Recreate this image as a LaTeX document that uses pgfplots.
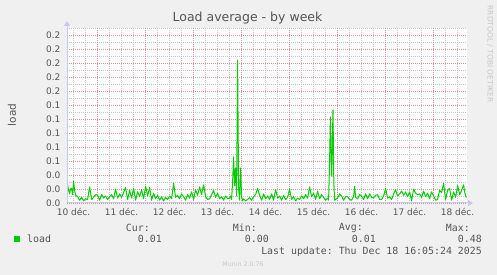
\documentclass[border=0pt]{standalone}
\usepackage{pgfplots}
\pgfplotsset{compat=1.18}
\usepackage{fontspec}
\setmainfont{DejaVu Sans}
\setmonofont{DejaVu Sans Mono}
\usetikzlibrary{arrows.meta}
\definecolor{bg}{HTML}{F0F0F0}
\definecolor{txt}{HTML}{555555}
\definecolor{gridred}{HTML}{D89090}
\definecolor{gridgray}{HTML}{C4C4C4}
\definecolor{axcol}{HTML}{C8C8F5}
\definecolor{loadgreen}{HTML}{00CC00}
\definecolor{faint}{HTML}{C8C8C8}
\begin{document}
\begin{tikzpicture}
\fill[bg] (-67pt,-72pt) rectangle (430pt,203pt);
\begin{axis}[
  at={(0pt,0pt)}, anchor=south west,
  scale only axis, width=400pt, height=175pt,
  xmin=8.7, xmax=208.7, ymin=0, ymax=0.25,
  axis background/.style={fill=white},
  axis line style={draw=none},
  clip=true,
  xtick={12,36,60,84,108,132,156,180,204},
  xticklabels={10 déc., 11 déc., 12 déc., 13 déc., 14 déc., 15 déc., 16 déc., 17 déc., 18 déc.},
  minor xtick={12,18,30,36,42,54,60,66,78,84,90,102,108,114,126,132,138,150,156,162,174,180,186,198,204},
  extra x ticks={24,48,72,96,120,144,168,192},
  extra x tick labels={},
  extra x tick style={xmajorgrids=true, major grid style={gridred, dash pattern=on 1pt off 1pt, line width=0.8pt}},
  ytick={0,0.02,0.04,0.06,0.08,0.10,0.12,0.14,0.16,0.18,0.20,0.22,0.24},
  yticklabels={0.0,0.0,0.0,0.1,0.1,0.1,0.1,0.1,0.2,0.2,0.2,0.2,0.2},
  minor ytick={0.01,0.03,0.05,0.07,0.09,0.11,0.13,0.15,0.17,0.19,0.21,0.23,0.25},
  xmajorgrids=false, xminorgrids=true, ymajorgrids=true, yminorgrids=true,
  major grid style={gridred, dash pattern=on 1pt off 1pt, line width=0.8pt},
  minor grid style={gridgray, dash pattern=on 1pt off 1pt, line width=0.8pt},
  major tick length=0pt, minor tick length=0pt,
  tick label style={font=\fontsize{9}{10}\selectfont, text=txt},
  yticklabel style={xshift=-3pt},
  xticklabel style={yshift=-2pt},
]
\addplot[loadgreen, line width=1pt, line join=round] coordinates {
(9,0.026)(9.5,0.018)(10,0.013)(10.5,0.020)(11,0.021)(11.5,0.012)(12,0.031)(12.5,0.018)
(13,0.011)(14,0.009)(15,0.004)(16,0.008)(17,0.003)(18,0.006)(19,0.005)(20,0.023)
(21,0.005)(22,0.008)(23,0.012)(24,0.011)(25,0.004)(26,0.012)(27,0.007)(28,0.010)
(29,0.005)(30,0.009)(31,0.012)(32,0.006)(33,0.020)(34,0.007)(35,0.013)(36,0.008)
(37,0.015)(38,0.022)(39,0.005)(40,0.018)(41,0.007)(42,0.021)(43,0.004)(44,0.016)
(45,0.009)(46,0.019)(47,0.006)(48,0.024)(49,0.010)(50,0.022)(51,0.004)(52,0.014)
(53,0.006)(54,0.011)(55,0.004)(56,0.009)(57,0.003)(58,0.008)(59,0.005)(60,0.010)
(61,0.006)(62,0.028)(63,0.008)(64,0.011)(65,0.006)(66,0.013)(67,0.009)(68,0.004)
(69,0.012)(70,0.007)(71,0.016)(72,0.005)(73,0.019)(74,0.011)(75,0.023)(76,0.012)
(77,0.026)(78,0.009)(79,0.005)(80,0.006)(81,0.012)(82,0.018)(83,0.008)(84,0.014)
(85,0.006)(86,0.009)(87,0.004)(88,0.010)(89,0.006)(90,0.007)(90.5,0.010)(91,0.005)
(91.5,0.030)(92,0.066)(92.5,0.025)(93,0.050)(93.5,0.010)(94,0.204)(94.5,0.020)(95,0.004)
(95.5,0.050)(96,0.008)(96.5,0.003)(97,0.006)(98,0.003)(99,0.005)(100,0.008)(101,0.004)
(102,0.009)(103,0.012)(104,0.021)(105,0.011)(106,0.004)(107,0.013)(108,0.006)(109,0.010)
(110,0.005)(111,0.013)(112,0.004)(113,0.019)(114,0.007)(115,0.010)(116,0.004)(117,0.011)
(118,0.005)(119,0.008)(120,0.020)(121,0.005)(122,0.009)(123,0.003)(124,0.007)(125,0.005)
(126,0.010)(127,0.006)(128,0.012)(129,0.007)(130,0.023)(131,0.009)(132,0.014)(133,0.005)
(134,0.017)(135,0.006)(136,0.012)(137,0.008)(138,0.004)(139,0.007)(139.5,0.004)(140,0.060)
(140.4,0.123)(140.8,0.060)(141.1,0.038)(141.4,0.090)(141.7,0.133)(142.1,0.030)(142.5,0.004)
(143,0.005)(144,0.007)(145,0.013)(146,0.010)(147,0.004)(148,0.009)(149,0.009)(150,0.005)
(151,0.004)(152,0.009)(152.5,0.024)(153,0.008)(154,0.006)(155,0.012)(156,0.010)(157,0.005)
(158,0.013)(159,0.006)(160,0.013)(161,0.008)(162,0.007)(163,0.011)(164,0.012)(165,0.005)
(166,0.005)(167,0.010)(168,0.021)(169,0.007)(170,0.009)(171,0.005)(172,0.013)(173,0.019)
(174,0.010)(175,0.013)(176,0.017)(177,0.011)(178,0.016)(179,0.009)(180,0.016)(181,0.003)
(182,0.020)(183,0.014)(184,0.012)(185,0.013)(186,0.008)(187,0.017)(188,0.009)(189,0.014)
(190,0.006)(191,0.016)(192,0.010)(193,0.004)(194,0.005)(195,0.018)(196,0.015)(197,0.028)
(198,0.005)(199,0.018)(200,0.021)(201,0.004)(202,0.016)(203,0.008)(204,0.025)(205,0.012)
(206,0.018)(207,0.026)(207.5,0.016)(208,0.010)(208.5,0.008)
};
\end{axis}
% axis lines with arrows
\draw[axcol, line width=1pt, -{Triangle[length=5pt,width=6pt]}] (0pt,0pt) -- (0pt,182pt);
\draw[axcol, line width=1pt, -{Triangle[length=5pt,width=6pt]}] (0pt,0pt) -- (406pt,0pt);
% title and labels
\node[font=\fontsize{12.5}{14}\selectfont, text=txt] at (180.5pt,185pt) {Load average - by week};
\node[font=\fontsize{10.5}{12}\selectfont, text=txt, rotate=90] at (-55pt,88pt) {load};
\node[font=\fontsize{7.5}{9}\selectfont, text=faint, rotate=-90] at (423pt,149pt) {RRDTOOL / TOBI OETIKER};
% legend
\begin{scope}[every node/.style={font=\ttfamily\fontsize{9.9}{11}\selectfont, text=txt, inner sep=0pt}]
\node[anchor=east] at (83pt,-25pt) {Cur:};
\node[anchor=east] at (190pt,-25pt) {Min:};
\node[anchor=east] at (296pt,-25pt) {Avg:};
\node[anchor=east] at (403pt,-25pt) {Max:};
\fill[loadgreen] (-53pt,-39pt) rectangle (-47pt,-33pt);
\node[anchor=west] at (-40pt,-36pt) {load};
\node[anchor=east] at (95pt,-36pt) {0.01};
\node[anchor=east] at (202pt,-36pt) {0.00};
\node[anchor=east] at (309pt,-36pt) {0.01};
\node[anchor=east] at (415pt,-36pt) {0.48};
\node[anchor=east] at (415pt,-49pt) {Last update: Thu Dec 18 16:05:24 2025};
\end{scope}
\node[font=\fontsize{6.3}{8}\selectfont, text=faint] at (176pt,-61pt) {Munin 2.0.76};
\end{tikzpicture}
\end{document}
